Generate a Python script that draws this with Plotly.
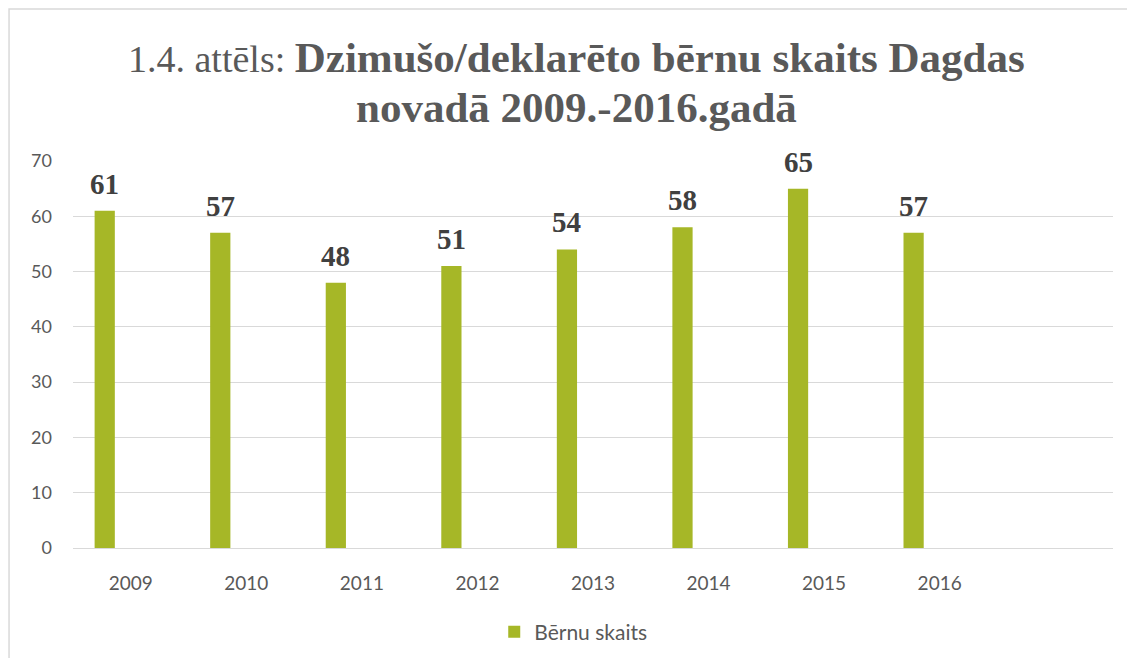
import plotly.graph_objects as go

years = ["2009", "2010", "2011", "2012", "2013", "2014", "2015", "2016"]
births = [61, 57, 48, 51, 54, 58, 65, 57]
series_name = "Bērnu skaits"
title_line1_regular = "1.4. attēls: "
title_line1_bold = "Dzimušo/deklarēto bērnu skaits Dagdas"
title_line2_bold = "novadā 2009.-2016.gadā"
y_ticks = [0, 10, 20, 30, 40, 50, 60, 70]

bar_color = "#a6b727"
text_gray = "#595959"

xpos = list(range(len(years)))

fig = go.Figure()
fig.add_trace(go.Bar(
    x=xpos, y=births, name=series_name,
    marker=dict(color=bar_color, line=dict(width=0)),
    width=0.175, offset=-0.313,
    showlegend=True,
))

for xi, v in zip(xpos, births):
    fig.add_annotation(
        x=xi - 0.2255, y=v, xref="x", yref="y",
        text=f"<b>{v}</b>", showarrow=False,
        yanchor="middle", yshift=27,
        font=dict(family="Liberation Serif", size=29, color="#404040"),
    )

title_font = dict(family="Liberation Serif", size=43, color=text_gray)
fig.add_annotation(
    xref="paper", yref="paper", x=0.484, y=1.2687,
    xanchor="center", yanchor="middle", showarrow=False,
    text=(f'<span style="font-size:38px">{title_line1_regular}</span>'
          f"<b>{title_line1_bold}</b>"),
    font=title_font,
)
fig.add_annotation(
    xref="paper", yref="paper", x=0.484, y=1.1395,
    xanchor="center", yanchor="middle", showarrow=False,
    text=f"<b>{title_line2_bold}</b>",
    font=title_font,
)

fig.update_layout(
    width=1119, height=650,
    margin=dict(l=65, r=14, t=153, b=110, autoexpand=False),
    paper_bgcolor="white", plot_bgcolor="white",
    xaxis=dict(
        range=[-0.5, 8.5],
        tickvals=xpos, ticktext=years,
        showgrid=False, zeroline=False, showline=False,
        ticks="", ticklabelstandoff=22,
        tickfont=dict(family="Lato", size=19, color=text_gray),
    ),
    yaxis=dict(
        range=[0, 70], tickvals=y_ticks,
        showgrid=True, gridcolor="#d9d9d9", gridwidth=1.3,
        zeroline=True, zerolinecolor="#d9d9d9", zerolinewidth=1.3,
        showline=False, ticks="", ticklabelstandoff=20,
        tickfont=dict(family="Lato", size=18, color=text_gray),
    ),
    legend=dict(
        orientation="h", x=0.481, xanchor="center", y=-0.217, yanchor="middle",
        font=dict(family="Lato", size=21, color=text_gray),
        itemwidth=30,
    ),
    shapes=[dict(
        type="rect", xref="paper", yref="paper",
        x0=-0.0615, x1=1.06, y0=-0.34, y1=1.3928,
        line=dict(color="#d9d9d9", width=1.5), fillcolor="rgba(0,0,0,0)",
        layer="below",
    )],
)

fig.write_html("out.html")
